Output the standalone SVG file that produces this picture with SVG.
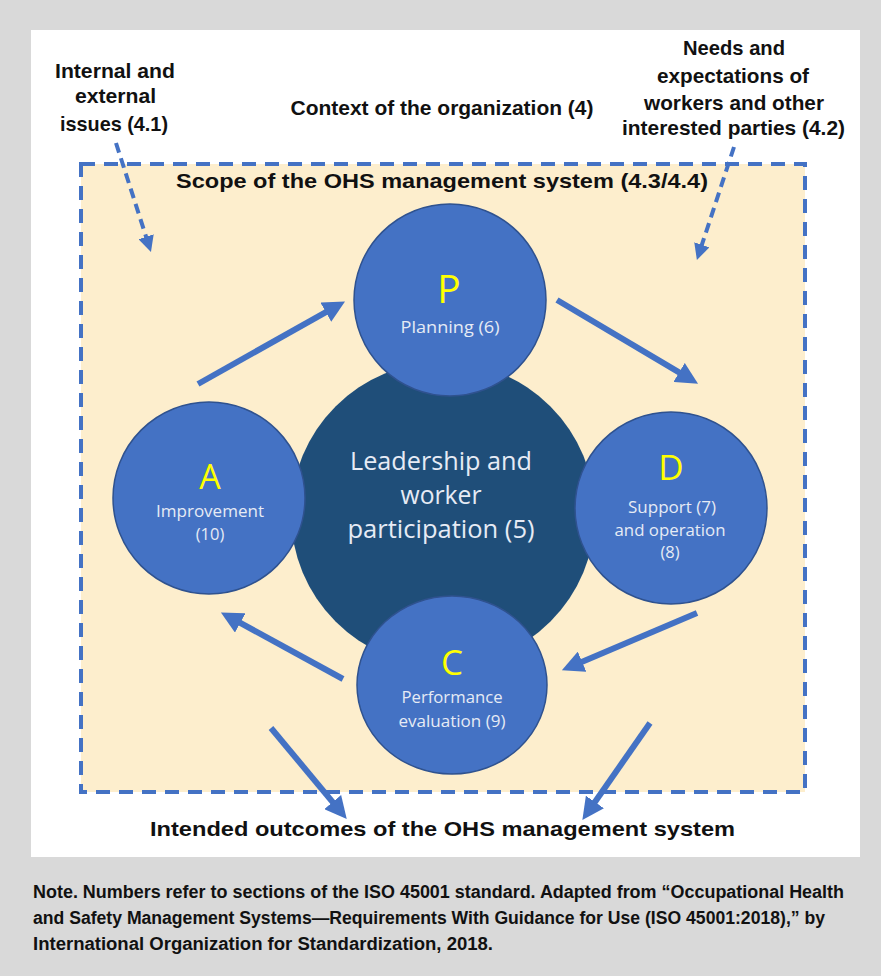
<svg xmlns="http://www.w3.org/2000/svg" width="881" height="976" viewBox="0 0 881 976">
  <style>
    .label { font-family: "Liberation Sans", Arial, sans-serif; font-weight: bold; font-size: 21px; fill: #111; text-anchor: middle; }
    .note { font-family: "Liberation Sans", Arial, sans-serif; font-weight: bold; font-size: 18px; fill: #111; }
    .node { fill: #4472c4; stroke: #2f528f; stroke-width: 1.5; }
    .core { fill: #1f4e79; }
    .letter { font-family: "Open Sans", "Noto Sans", sans-serif; fill: #ffff00; text-anchor: middle; }
    .small { font-family: "Open Sans", "Noto Sans", sans-serif; font-size: 16.5px; fill: #e6ebf5; text-anchor: middle; }
    .big { font-family: "Open Sans", "Noto Sans", sans-serif; font-size: 25px; fill: #e6ebf5; text-anchor: middle; }
    .flow { stroke: #4472c4; stroke-width: 6; fill: none; }
    .feed { stroke: #4472c4; stroke-width: 4; fill: none; stroke-dasharray: 10 6; }
  </style>
  <defs>
    <marker id="head" viewBox="0 0 20 20" markerUnits="userSpaceOnUse" markerWidth="22" markerHeight="22" refX="8" refY="10" orient="auto">
      <path d="M0,0 L20,10 L0,20 Z" fill="#4472c4"/>
    </marker>
    <marker id="headSmall" viewBox="0 0 16 16" markerUnits="userSpaceOnUse" markerWidth="16" markerHeight="16" refX="6" refY="8" orient="auto">
      <path d="M0,0 L16,8 L0,16 Z" fill="#4472c4"/>
    </marker>
  </defs>

  <!-- page background and white panel -->
  <rect x="0" y="0" width="881" height="976" fill="#d9d9d9"/>
  <rect x="31" y="30" width="829" height="827" fill="#ffffff"/>

  <!-- scope boundary -->
  <rect id="scope" x="81" y="164" width="724" height="628" fill="#fdeecd" stroke="#4472c4" stroke-width="4" stroke-dasharray="14 9"/>

  <!-- outer labels -->
  <g id="issues">
    <text class="label" x="115" y="78" textLength="120" lengthAdjust="spacingAndGlyphs">Internal and</text>
    <text class="label" x="115.5" y="103" textLength="81" lengthAdjust="spacingAndGlyphs">external</text>
    <text class="label" x="114" y="131" textLength="108" lengthAdjust="spacingAndGlyphs">issues (4.1)</text>
  </g>
  <g id="context">
    <text class="label" x="442" y="115" textLength="303" lengthAdjust="spacingAndGlyphs">Context of the organization (4)</text>
  </g>
  <g id="needs">
    <text class="label" x="734" y="55" textLength="102" lengthAdjust="spacingAndGlyphs">Needs and</text>
    <text class="label" x="733" y="83" textLength="152" lengthAdjust="spacingAndGlyphs">expectations of</text>
    <text class="label" x="734" y="110" textLength="180" lengthAdjust="spacingAndGlyphs">workers and other</text>
    <text class="label" x="733.5" y="135" textLength="223" lengthAdjust="spacingAndGlyphs">interested parties (4.2)</text>
  </g>
  <g id="scope-title">
    <text class="label" x="442" y="188" textLength="532" lengthAdjust="spacingAndGlyphs">Scope of the OHS management system (4.3/4.4)</text>
  </g>

  <!-- PDCA nodes -->
  <g id="leadership">
    <circle class="core" cx="443" cy="514" r="152"/>
    <text class="big" x="441" y="470" textLength="182" lengthAdjust="spacingAndGlyphs">Leadership and</text>
    <text class="big" x="441" y="504" textLength="81" lengthAdjust="spacingAndGlyphs">worker</text>
    <text class="big" x="441" y="538" textLength="187" lengthAdjust="spacingAndGlyphs">participation (5)</text>
  </g>
  <g id="plan">
    <circle class="node" cx="450" cy="300" r="96"/>
    <text class="letter" x="449" y="303" font-size="39">P</text>
    <text class="small" x="450" y="333" textLength="99" lengthAdjust="spacingAndGlyphs">Planning  (6)</text>
  </g>
  <g id="act">
    <circle class="node" cx="209" cy="498" r="96"/>
    <text class="letter" x="210" y="489" font-size="34">A</text>
    <text class="small" x="210" y="517" textLength="108" lengthAdjust="spacingAndGlyphs">Improvement</text>
    <text class="small" x="210" y="540">(10)</text>
  </g>
  <g id="do">
    <circle class="node" cx="671" cy="508" r="96"/>
    <text class="letter" x="671" y="480" font-size="35">D</text>
    <text class="small" x="672" y="513" textLength="88" lengthAdjust="spacingAndGlyphs">Support (7)</text>
    <text class="small" x="670" y="536" textLength="111" lengthAdjust="spacingAndGlyphs">and operation</text>
    <text class="small" x="670" y="558">(8)</text>
  </g>
  <g id="check">
    <ellipse class="node" cx="452" cy="685" rx="95" ry="89"/>
    <text class="letter" x="452" y="675" font-size="35">C</text>
    <text class="small" x="452" y="703" textLength="101" lengthAdjust="spacingAndGlyphs">Performance</text>
    <text class="small" x="452" y="727" textLength="107" lengthAdjust="spacingAndGlyphs">evaluation (9)</text>
  </g>

  <!-- connectors -->
  <g id="connectors">
    <line class="flow" x1="198" y1="384" x2="333.5" y2="307.9" marker-end="url(#head)"/>
    <line class="flow" x1="557" y1="300" x2="686.7" y2="376.9" marker-end="url(#head)"/>
    <line class="flow" x1="697" y1="613" x2="574" y2="665.2" marker-end="url(#head)"/>
    <line class="flow" x1="343" y1="679" x2="232.5" y2="618.7" marker-end="url(#head)"/>
    <line class="flow" x1="271" y1="728" x2="338.3" y2="808.8" marker-end="url(#head)"/>
    <line class="flow" x1="650" y1="723" x2="589.9" y2="809.2" marker-end="url(#head)"/>
    <line class="feed" x1="116" y1="143" x2="147.9" y2="242.5" marker-end="url(#headSmall)"/>
    <line class="feed" x1="734" y1="147" x2="700" y2="250.5" marker-end="url(#headSmall)"/>
  </g>

  <!-- outcome label -->
  <g id="outcomes">
    <text class="label" x="442.5" y="836" textLength="585" lengthAdjust="spacingAndGlyphs">Intended outcomes of the OHS management system</text>
  </g>

  <!-- source note -->
  <g id="note">
    <text class="note" x="33" y="898" textLength="811" lengthAdjust="spacingAndGlyphs">Note. Numbers refer to sections of the ISO 45001 standard. Adapted from “Occupational Health</text>
    <text class="note" x="33" y="924" textLength="792" lengthAdjust="spacingAndGlyphs">and Safety Management Systems—Requirements With Guidance for Use (ISO 45001:2018),” by</text>
    <text class="note" x="33" y="950" textLength="460" lengthAdjust="spacingAndGlyphs">International Organization for Standardization, 2018.</text>
  </g>
</svg>
